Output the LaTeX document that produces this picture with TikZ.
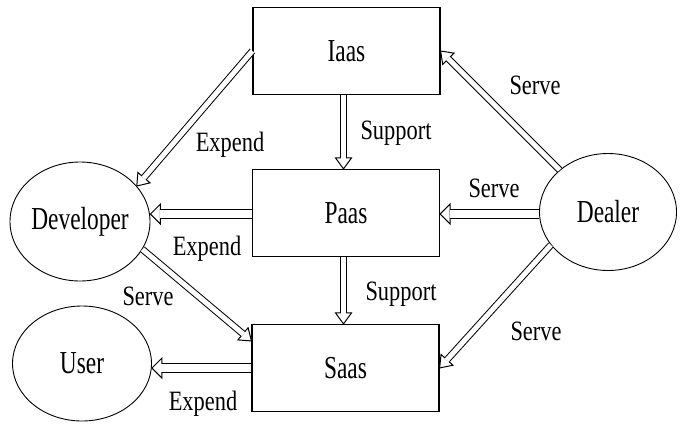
\documentclass[tikz,border=0pt]{standalone}
\usepackage{fontspec}
\setmainfont{Liberation Serif}
\newfontfamily\edgefont[FakeStretch=0.8]{Liberation Serif}
\newfontfamily\nodefont[FakeStretch=0.73]{Liberation Serif}
\usetikzlibrary{shapes.geometric,calc,decorations.markings}

\tikzset{
  layer/.style={draw, line width=1.2pt, minimum width=187pt, minimum height=87pt,
    inner sep=0pt, font=\nodefont\fontsize{32}{34}\selectfont},
  party/.style={draw, ellipse, line width=0.9pt, inner sep=0pt,
    font=\nodefont\fontsize{32}{34}\selectfont},
  % hollow double-line arrow: outer shaft, open head, then the white core
  % #1 outer width, #2 core width, #3 head length, #4 half head width, #5 core shortening
  hollowarrow/.style n args={5}{
    preaction={draw=black, line width=#1, shorten >=#3},
    postaction={decorate, decoration={markings, mark=at position 1 with
      {\draw[black, fill=white, line width=1pt, line join=miter]
        (0pt,0pt) -- (-#3,#4) -- (-#3,-#4) -- cycle;}}},
    postaction={draw=white, line width=#2, shorten >=#5},
  },
  flow/.style={hollowarrow={7pt}{5pt}{11pt}{8pt}{10.4pt}},
  hflow/.style={hollowarrow={10pt}{8pt}{10pt}{10pt}{9.4pt}},
  tag/.style={font=\edgefont\fontsize{28}{30}\selectfont, anchor=base, inner sep=0pt},
}

\begin{document}
\begin{tikzpicture}[x=1pt, y=-1pt]
  \useasboundingbox (0,0) rectangle (684,423);

  % service layers
  \node[layer] (iaas) at (346.5,51) {Iaas};
  \node[layer] (paas) at (346,213) {Paas};
  \node[layer] (saas) at (345.5,368) {Saas};

  % participants
  \node[party, minimum width=140pt, minimum height=119pt] (dev) at (80,221.5) {Developer};
  \node[party, minimum width=139pt, minimum height=115pt] (user) at (82,363.5) {User};
  \node[party, minimum width=137pt, minimum height=117pt] (dealer) at (608,212) {Dealer};

  % relations
  \path[flow] (iaas.west) -- (dev.32);
  \path[hflow] ($(paas.west)+(0,1)$) -- ($(dev.east)+(0,-7.5)$);
  \path[flow] ($(iaas.south)+(-3,0)$) -- ($(paas.north)+(-2.5,0)$);
  \path[flow] ($(paas.south)+(-2.5,0)$) -- ($(saas.north)+(-2,0)$);
  \path[flow] (dealer.139) -- (iaas.east);
  \path[hflow] ($(dealer.west)+(0,2)$) -- ($(paas.east)+(0,1)$);
  \path[flow] (dealer.210) -- (saas.east);
  \path[flow] (dev.-24) -- ($(saas.north west)+(0,17)$);
  \path[hflow] ($(saas.west)+(0,0)$) -- ($(user.east)+(0,4.5)$);

  % relation labels
  \node[tag] (l1) at (230,151) {Expend};
  \node[tag] (l2) at (396,139) {Support};
  \node[tag] (l3) at (535,94) {Serve};
  \node[tag] (l4) at (494,197) {Serve};
  \node[tag] (l5) at (207,255) {Expend};
  \node[tag] (l6) at (148,305) {Serve};
  \node[tag] (l7) at (401,300) {Support};
  \node[tag] (l8) at (536,340) {Serve};
  \node[tag] (l9) at (203,410) {Expend};
\end{tikzpicture}
\end{document}
